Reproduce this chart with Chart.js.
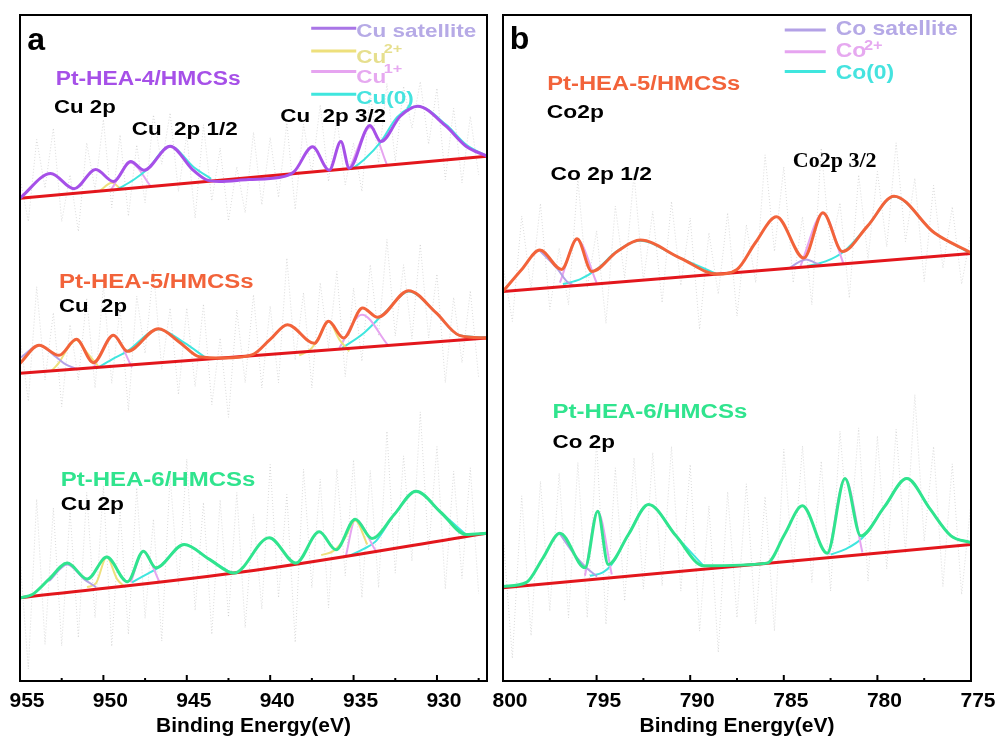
<!DOCTYPE html>
<html lang="en">
<head>
<meta charset="UTF-8">
<title>Cu 2p / Co 2p XPS</title>
<script src="https://cdn.jsdelivr.net/npm/chart.js"></script>
<style>
  body { margin: 0; background: #fff; }
  canvas { position: absolute; top: 0; }
  #cuPanel { left: 0; }
  #coPanel { left: 480px; }
</style>
</head>
<body>
<canvas id="cuPanel" width="500" height="737"></canvas>
<canvas id="coPanel" width="520" height="737"></canvas>
<script>
// ---- raw spectra (binding energy grid + measured counts, a.u.) ----
const cuEnergies = [955,954.5,954,953.5,953,952.5,952,951.5,951,950.5,950,949.5,949,948.5,948,947.5,947,946.5,946,945.5,
  945,944.5,944,943.5,943,942.5,942,941.5,941,940.5,940,939.5,939,938.5,938,937.5,937,936.5,936,935.5,
  935,934.5,934,933.5,933,932.5,932,931.5,931,930.5,930,929.5,929,928.5,928,927.5];
const cuRawHEA4 = [75.5,69,81.3,74,83,69,76,67.5,80.8,73.8,84.3,71.1,82,69.8,80.5,71.8,85,77.6,85.3,73.5,
  82,69.5,83.5,72.1,80,69.1,77.2,70.3,82.4,71.5,81.6,72.6,83.8,70.8,83.6,76.2,86.5,75,84.5,74.5,
  80.8,73.5,88.4,77.8,89.7,78,89.3,83,90,80.6,89,75.3,86,74.8,84.8,76];
const cuRawHEA5 = [51.7,42,59.2,45.2,55.3,41.2,53.5,45.2,57.5,44,59.5,44.7,56,40.6,57.8,49.2,61.8,46.8,56,43,
  56,44.2,56.6,41.5,51.5,39.6,55.7,44.8,58,44,56.3,44.8,63.5,48.2,58.3,44,59.8,50,61.5,45.7,
  59,48,62.5,51.8,66.3,51.8,62.5,51.4,65.6,51.5,61.1,44.8,57.6,47.8,58.6,45.5];
const cuRawHEA6 = [18.5,1.8,27.3,5.5,26,5.3,25.6,6.5,28.3,9.5,29.3,5.2,25.5,7,29,9.4,24.3,6,30.8,14.4,
  33.3,10.6,26.8,7,27.2,9.6,28.3,8,25,10.8,32.5,12.5,28,5.8,31.8,14,30.3,11,31.8,15.8,
  33.2,12.5,31.6,14,37.5,16.2,33.8,18,40.4,19.6,35.2,13.8,31.5,15.4,32,13.1];

const coEnergies = [800,799.5,799,798.5,798,797.5,797,796.5,796,795.5,795,794.5,794,793.5,793,792.5,792,791.5,791,790.5,
  790,789.5,789,788.5,788,787.5,787,786.5,786,785.5,785,784.5,784,783.5,783,782.5,782,781.5,781,780.5,
  780,779.5,779,778.5,778,777.5,777,776.5,776,775.5,775];
const coRawHEA5 = [62.5,54,69.8,58.8,71.7,55.8,65,56.5,75.4,59,67.6,53.7,71.3,60.5,76.1,60.1,70.5,56.8,72,59.4,
  69.5,52.8,67.3,58.1,70.3,54.8,68.5,59.8,79,64.5,77.2,59.8,69.7,56.5,80,64.5,71.8,57.5,76,63.4,
  76.5,65.2,80.8,66,75.5,60,74.4,62,71.2,59.6,67.3];
const coRawHEA6 = [22.2,3.4,27.8,6.8,30,10.5,31.2,9.5,32.8,9.5,36,8.5,32,12,33.5,13.8,34.3,14.3,35.2,13.5,
  32.5,7.5,26.3,4.3,28.4,9.5,29.6,8.6,27.7,7.5,34.8,16.8,35.3,14.8,33,13.5,37.5,20.5,38,15,
  36.8,16.8,37.8,19.3,43,21,35.2,14.2,32.6,13,26.8];

// ---- fitted envelopes [eV, a.u.] ----
const cuFitHEA4 = [[955,72.5],[953.16,76.2],[951.76,73.9],[950.46,76.8],[949.4,75.0],[948.36,78.0],[947.56,76.7],[946.0,80.3],
  [944.66,76.8],[943.86,75.3],[943.06,75.0],[941.3,75.3],[939.46,75.6],[938.56,76.5],[937.46,80.2],[936.46,76.7],[935.76,81.0],
  [935.26,77.0],[934.02,83.4],[933.36,81.0],[932.2,84.8],[931.16,86.3],[929.46,83.3],[928.26,80.3],[927.0,78.8]];
const cuFitHEA5 = [[955,47.7],[953.86,50.4],[952.66,48.9],[951.62,51.3],[950.6,47.8],[949.4,51.9],[948.56,49.5],[946.7,52.9],
  [945.4,50.8],[944.26,48.7],[942.76,48.5],[941.06,49.0],[940.0,51.3],[938.96,53.5],[937.36,50.7],[936.5,54.0],[935.6,51.5],
  [934.46,56.0],[933.56,54.6],[931.7,58.6],[930.06,55.3],[928.66,51.9],[927.0,51.5]];
const cuFitHEA6 = [[955,12.5],[954.26,13.0],[953.26,15.3],[952.16,17.7],[950.96,15.3],[949.8,18.6],[948.56,14.9],[947.6,19.5],
  [946.86,17.0],[945.16,20.5],[943.66,18.3],[942.16,16.2],[940.06,21.5],[938.46,17.7],[937.06,22.4],[936.06,19.7],[934.9,24.3],
  [933.9,21.4],[932.56,25.0],[931.26,28.5],[929.76,25.3],[928.26,22.0],[927.0,22.2]];
const coFitHEA5 = [[800,58.5],[799.0,61.8],[798.03,64.7],[796.87,61.8],[796.04,66.4],[795.26,61.5],[793.9,64.5],[792.68,66.2],
  [790.53,63.5],[788.57,61.1],[787.5,61.8],[786.52,65.8],[785.39,69.7],[783.93,63.5],[782.91,70.3],[781.87,64.5],[780.53,68.3],
  [779.11,72.8],[776.96,67.3],[775,64.3]];
const coFitHEA6 = [[800,14.2],[798.75,14.8],[797.86,18.5],[796.96,22.2],[795.62,17.0],[794.94,25.5],[794.38,17.5],[793.3,22.0],
  [792.23,26.5],[790.76,21.8],[789.29,17.3],[785.89,17.7],[784.96,22.0],[784.01,26.3],[782.68,19.2],[781.73,30.4],[780.89,21.8],
  [779.64,26.1],[778.43,30.4],[777.23,26.0],[776.07,21.8],[775,20.8]];

// ---- backgrounds ----
const cuBaseHEA4 = [[955,72.5],[927,78.8]];
const cuBaseHEA5 = [[955,46.2],[927,51.5]];
const cuBaseHEA6 = [[955,12.5],[941,16.6],[927,22.2]];
const coBaseHEA5 = [[800,58.5],[775,64.2]];
const coBaseHEA6 = [[800,14.0],[775,20.5]];

// ---- deconvoluted components (visible segments) ----
const cuZeroHEA4 = [[[949.18,73.8],[948.16,75.3],[947.38,76.8],[946.0,80.3],[944.56,77.1],[943.54,75.4]],
  [[935.14,76.8],[934.36,78.3],[933.36,81.0],[932.38,84.7],[931.16,86.3],[929.44,83.5],[928.24,80.5],[927.04,78.9]]];
const cuOneHEA4 = [[[949.54,73.8],[948.36,77.8],[947.14,74.2]], [[935.26,76.9],[934.0,83.1],[932.98,77.4]]];
const cuTwoHEA4 = [[[950.26,73.5],[949.48,74.8],[948.94,73.8]]];

const cuSatHEA5 = [[[954.94,48.6],[953.86,50.4],[952.96,48.9],[952.36,47.7],[951.58,46.8]]];
const cuTwoHEA5 = [[[953.14,46.5],[952.66,47.8],[952.18,49.8],[951.62,51.2],[950.98,49.3],[950.26,47.1]],
  [[938.26,48.9],[937.54,49.9],[937.06,51.7],[936.5,54.0],[935.86,51.3],[935.26,49.5]]];
const cuOneHEA5 = [[[950.62,46.9],[949.4,51.9],[948.28,47.1]], [[935.86,50.0],[934.5,55.0],[932.96,50.5]]];
const cuZeroHEA5 = [[[950.44,46.9],[949.48,48.3],[948.58,49.5],[946.7,52.8],[945.16,50.8],[943.96,48.7]],
  [[935.68,50.0],[934.36,52.3],[933.06,55.5],[931.7,58.5],[930.06,55.3],[928.66,51.9],[927.04,51.6]]];

const cuSatHEA6 = [[[953.26,15.0],[952.16,17.5],[951.16,15.3],[950.44,14.1]]];
const cuTwoHEA6 = [[[950.98,14.1],[950.44,14.7],[949.8,18.6],[949.18,15.3],[948.7,14.1]],
  [[936.94,18.9],[936.22,19.5],[935.56,21.3],[934.9,24.1],[934.18,20.5]]];
const cuOneHEA6 = [[[948.36,14.8],[947.6,19.5],[946.66,15.0]], [[935.46,18.8],[934.9,24.2],[933.66,19.5]]];
const cuZeroHEA6 = [[[948.28,14.8],[947.5,15.9],[946.66,17.1],[945.16,20.5],[943.66,18.3],[942.34,16.2]],
  [[935.26,18.8],[934.42,19.8],[933.66,21.0],[932.56,25.0],[931.26,28.5],[929.76,25.3],[928.26,22.0]]];

const coSatHEA5 = [[[798.03,64.6],[797.07,61.8],[796.59,60.0],[796.16,59.3]], [[784.7,62.0],[784.2,62.9],[783.8,63.3],[783.4,62.9],[783.0,62.4]]];
const coTwoHEA5 = [[[796.96,59.8],[796.04,66.3],[795.0,59.8]], [[784.11,62.3],[782.91,70.2],[781.79,62.5]]];
const coZeroHEA5 = [[[796.8,59.6],[795.89,60.3],[795.0,61.8],[793.93,64.5],[792.68,66.1],[790.53,63.5],[788.57,61.1]],
  [[783.75,62.3],[782.77,63.0],[781.79,64.5],[780.53,68.3],[779.11,72.7],[776.96,67.3],[775.0,64.2]]];

const coSatHEA6 = [[[796.96,22.1],[796.16,18.9],[795.62,17.2],[794.98,15.7]]];
const coTwoHEA6 = [[[795.62,15.8],[794.94,25.5],[794.19,16.0]], [[782.59,19.0],[781.73,30.4],[780.8,19.3]]];
const coZeroHEA6 = [[[795.36,15.8],[794.66,16.3],[794.19,17.5],[793.3,22.0],[792.23,26.5],[790.76,21.8],[789.29,17.3]],
  [[782.5,19.0],[781.7,19.8],[780.8,21.5],[779.64,26.1],[778.43,30.4],[777.23,26.0],[776.07,21.8],[775,20.8]]];

// ---- axis ticks ----
const cuMajorTicks = [955, 950, 945, 940, 935, 930];
const cuMinorTicks = [952.5, 947.5, 942.5, 937.5, 932.5, 927.5];
const coMajorTicks = [800, 795, 790, 785, 780, 775];
const coMinorTicks = [797.5, 792.5, 787.5, 782.5, 777.5];

const SANS = '"Liberation Sans", Arial, sans-serif';
const SERIF = '"Liberation Serif", "Times New Roman", serif';
const PURPLE = '#a650e8', ORANGE = '#f2633a', GREEN = '#30e48e', RED = '#e3161c';
const CYAN = '#3fe6de', PINK = '#e6a4f0', YELLOW = '#eee07c', LAVENDER = '#b3a1e6';

Chart.defaults.font.family = SANS;

const xy = pairs => pairs.map(p => ({ x: p[0], y: p[1] }));

function fitLine(pairs, color) {
  return { data: xy(pairs), borderColor: color, borderWidth: 3, order: 0 };
}
function baseLine(pairs) {
  return { data: xy(pairs), borderColor: RED, borderWidth: 3, order: 1 };
}
function parts(segments, color) {
  return segments.map(seg => ({ data: xy(seg), borderColor: color, borderWidth: 2, order: 2 }));
}
function raw(energies, values) {
  return {
    data: energies.map((e, i) => ({ x: e, y: values[i] })),
    borderColor: 'rgba(175,175,175,0.45)', borderWidth: 1, borderDash: [1, 2],
    cubicInterpolationMode: 'default', tension: 0, order: 3
  };
}

function drawText(ctx, t, px, py) {
  ctx.save();
  ctx.translate(px, py);
  ctx.scale(t.stretch || 1, 1);
  ctx.fillStyle = t.color || '#000';
  ctx.textAlign = 'left';
  ctx.textBaseline = 'middle';
  ctx.font = `bold ${t.size}px ${t.family || SANS}`;
  ctx.fillText(t.text, 0, 0);
  if (t.sup) {
    const w = ctx.measureText(t.text).width;
    ctx.font = `bold ${t.supSize}px ${SANS}`;
    ctx.fillText(t.sup, w - 2, -t.supRise);
  }
  ctx.restore();
}

// frame, inward ticks, legend and labels
const decorPlugin = {
  id: 'decor',
  afterDraw(chart, args, opts) {
    const { ctx, chartArea: a, scales: { x, y } } = chart;
    ctx.save();
    ctx.strokeStyle = '#000';
    ctx.lineWidth = 2;
    const tick = (v, len) => {
      const px = x.getPixelForValue(v);
      ctx.beginPath();
      ctx.moveTo(px, a.bottom);
      ctx.lineTo(px, a.bottom - len);
      ctx.stroke();
    };
    opts.majors.forEach(v => tick(v, 6));
    opts.minors.forEach(v => tick(v, 3));
    ctx.strokeRect(a.left, a.top, a.width, a.height);

    opts.legend.forEach(item => {
      const ly = y.getPixelForValue(item.v);
      ctx.strokeStyle = item.lineColor;
      ctx.lineWidth = 3;
      ctx.beginPath();
      ctx.moveTo(x.getPixelForValue(item.e0), ly);
      ctx.lineTo(x.getPixelForValue(item.e1), ly);
      ctx.stroke();
      drawText(ctx, item, x.getPixelForValue(item.e2), y.getPixelForValue(item.tv));
    });
    opts.texts.forEach(t => drawText(ctx, t, x.getPixelForValue(t.e), y.getPixelForValue(t.v)));
    ctx.restore();
  }
};

function makePanel(id, cfg) {
  const tickFont = { family: SANS, size: 21, weight: 'bold', lineHeight: 1 };
  return new Chart(document.getElementById(id), {
    type: 'line',
    data: { datasets: cfg.datasets },
    options: {
      responsive: false,
      animation: false,
      events: [],
      layout: { padding: cfg.padding },
      elements: { point: { radius: 0 }, line: { cubicInterpolationMode: 'monotone', fill: false } },
      plugins: { legend: { display: false }, tooltip: { enabled: false }, decor: cfg.decor },
      scales: {
        x: {
          type: 'linear', reverse: true, min: cfg.min, max: cfg.max,
          afterBuildTicks: s => { s.ticks = cfg.decor.majors.map(v => ({ value: v })); },
          // edge labels fit inside the layout padding already
          afterFit: s => { s.paddingLeft = 0; s.paddingRight = 0; },
          grid: { display: false, drawTicks: false },
          border: { display: false },
          ticks: { color: '#000', padding: 10, labelOffset: 7, font: tickFont, callback: v => String(v) },
          // title sits tight under the tick labels
          title: { display: true, text: 'Binding Energy(eV)', color: '#000', padding: { top: -6, bottom: 0 }, font: tickFont }
        },
        y: { display: false, min: 0, max: 100 }
      }
    },
    plugins: [decorPlugin]
  });
}

// panel a: Cu 2p
makePanel('cuPanel', {
  min: 927, max: 955,
  padding: { left: 20, right: 13, top: 15, bottom: 0 },
  datasets: [
    fitLine(cuFitHEA4, PURPLE), fitLine(cuFitHEA5, ORANGE), fitLine(cuFitHEA6, GREEN),
    baseLine(cuBaseHEA4), baseLine(cuBaseHEA5), baseLine(cuBaseHEA6),
    ...parts(cuZeroHEA4, CYAN), ...parts(cuOneHEA4, PINK), ...parts(cuTwoHEA4, YELLOW),
    ...parts(cuSatHEA5, LAVENDER), ...parts(cuTwoHEA5, YELLOW), ...parts(cuOneHEA5, PINK), ...parts(cuZeroHEA5, CYAN),
    ...parts(cuSatHEA6, LAVENDER), ...parts(cuTwoHEA6, YELLOW), ...parts(cuOneHEA6, PINK), ...parts(cuZeroHEA6, CYAN),
    raw(cuEnergies, cuRawHEA4), raw(cuEnergies, cuRawHEA5), raw(cuEnergies, cuRawHEA6)
  ],
  decor: {
    majors: cuMajorTicks, minors: cuMinorTicks,
    legend: [
      { e0: 937.54, e1: 934.84, e2: 934.84, v: 98.0, tv: 97.4, lineColor: '#a975e6', text: 'Cu satellite', color: '#b6aae6', size: 18, stretch: 1.25 },
      { e0: 937.54, e1: 934.84, e2: 934.84, v: 94.6, tv: 93.6, lineColor: YELLOW, text: 'Cu', sup: '2+', supSize: 13, supRise: 8, color: '#e6df8e', size: 18, stretch: 1.25 },
      { e0: 937.54, e1: 934.84, e2: 934.84, v: 91.5, tv: 90.6, lineColor: PINK, text: 'Cu', sup: '1+', supSize: 13, supRise: 8, color: '#e6a9f0', size: 18, stretch: 1.25 },
      { e0: 937.54, e1: 934.84, e2: 934.84, v: 88.1, tv: 87.4, lineColor: CYAN, text: 'Cu(0)', color: '#45e3df', size: 18, stretch: 1.25 }
    ],
    texts: [
      { text: 'a', e: 954.56, v: 96.1, size: 32 },
      { text: 'Pt-HEA-4/HMCSs', e: 952.86, v: 90.25, size: 20, stretch: 1.14, color: PURPLE },
      { text: 'Cu 2p', e: 952.96, v: 86.0, size: 19, stretch: 1.17 },
      { text: 'Cu  2p 1/2', e: 948.3, v: 82.8, size: 19, stretch: 1.18 },
      { text: 'Cu  2p 3/2', e: 939.4, v: 84.75, size: 19, stretch: 1.18 },
      { text: 'Pt-HEA-5/HMCSs', e: 952.66, v: 59.8, size: 20, stretch: 1.2, color: ORANGE },
      { text: 'Cu  2p', e: 952.66, v: 56.2, size: 19, stretch: 1.17 },
      { text: 'Pt-HEA-6/HMCSs', e: 952.56, v: 30.1, size: 20, stretch: 1.2, color: GREEN },
      { text: 'Cu 2p', e: 952.56, v: 26.4, size: 19, stretch: 1.2 }
    ]
  }
});

// panel b: Co 2p
makePanel('coPanel', {
  min: 775, max: 800,
  padding: { left: 23, right: 29, top: 15, bottom: 0 },
  datasets: [
    fitLine(coFitHEA5, ORANGE), fitLine(coFitHEA6, GREEN),
    baseLine(coBaseHEA5), baseLine(coBaseHEA6),
    ...parts(coSatHEA5, LAVENDER), ...parts(coTwoHEA5, PINK), ...parts(coZeroHEA5, CYAN),
    ...parts(coSatHEA6, LAVENDER), ...parts(coTwoHEA6, PINK), ...parts(coZeroHEA6, CYAN),
    raw(coEnergies, coRawHEA5), raw(coEnergies, coRawHEA6)
  ],
  decor: {
    majors: coMajorTicks, minors: coMinorTicks,
    legend: [
      { e0: 784.95, e1: 782.76, e2: 782.23, v: 97.75, tv: 97.85, lineColor: LAVENDER, text: 'Co satellite', color: '#b5a9e6', size: 21, stretch: 1.09 },
      { e0: 784.95, e1: 782.76, e2: 782.23, v: 94.5, tv: 94.5, lineColor: PINK, text: 'Co', sup: '2+', supSize: 15, supRise: 6, color: '#e6a9f0', size: 21, stretch: 1.09 },
      { e0: 784.95, e1: 782.76, e2: 782.23, v: 91.5, tv: 91.25, lineColor: CYAN, text: 'Co(0)', color: '#45e3df', size: 21, stretch: 1.09 }
    ],
    texts: [
      { text: 'b', e: 799.64, v: 96.25, size: 32 },
      { text: 'Pt-HEA-5/HMCSs', e: 797.64, v: 89.5, size: 20, stretch: 1.19, color: ORANGE },
      { text: 'Co2p', e: 797.66, v: 85.35, size: 19, stretch: 1.2 },
      { text: 'Co 2p 1/2', e: 797.46, v: 76.0, size: 19, stretch: 1.2 },
      { text: 'Co2p 3/2', e: 784.52, v: 78.1, size: 22, family: SERIF },
      { text: 'Pt-HEA-6/HMCSs', e: 797.35, v: 40.3, size: 20, stretch: 1.2, color: GREEN },
      { text: 'Co 2p', e: 797.35, v: 35.8, size: 19, stretch: 1.18 }
    ]
  }
});
</script>
</body>
</html>
